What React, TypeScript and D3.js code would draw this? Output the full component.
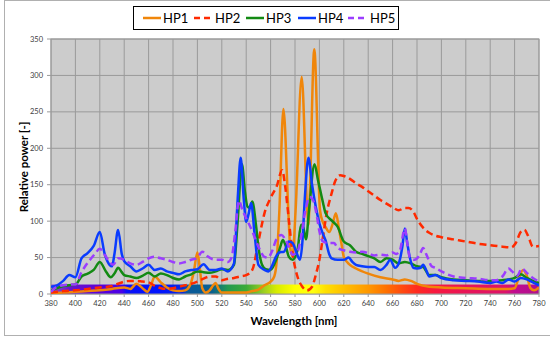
import React from 'react';
import * as d3 from 'd3';

type Pt = [number, number];

// Wavelength [nm] / relative power pairs for each lamp
const HP1: Pt[] = [
  [380, 1], [390, 2], [400, 3], [410, 4], [420, 5], [430, 7], [440, 9], [445, 7], [450, 14], [455, 8],
  [459, 3], [462, 12], [465, 24], [470, 16], [475, 9], [480, 5], [485, 4], [490, 5], [494, 12], [497, 30],
  [500, 57], [502, 35], [504, 8], [507, 2], [510, 5], [513, 12], [515, 15], [517, 8], [520, 2], [530, 2],
  [540, 2], [545, 4], [550, 6], [555, 12], [560, 17], [563, 24], [565, 45], [567.2, 115], [570.5, 254],
  [574.5, 115], [576, 65], [578, 52], [580.5, 115], [585.5, 298], [590, 115], [591, 95], [592, 130],
  [595.8, 336], [600.5, 115], [603, 98], [605, 92], [608, 85], [611, 97], [613.5, 111], [616, 90],
  [618, 70], [620, 51], [625, 40], [630, 35], [640, 28], [650, 23], [660, 20], [665, 18], [670, 20],
  [675, 18], [680, 14], [690, 10], [700, 9], [720, 8], [740, 7], [755, 7], [760, 8], [763, 20], [767, 33],
  [770, 25], [773, 8], [776, 5], [780, 9],
];

const HP2: Pt[] = [
  [380, 2], [390, 4], [400, 5], [410, 7], [420, 9], [430, 11], [435, 14], [440, 17], [445, 18], [450, 18],
  [455, 17], [460, 16], [465, 11], [470, 8], [475, 7], [480, 8], [485, 10], [490, 12], [495, 14], [500, 17],
  [505, 21], [510, 24], [515, 24], [520, 19], [525, 21], [530, 22], [535, 24], [540, 26], [545, 33],
  [550, 72], [555, 111], [560, 132], [565, 148], [569.5, 170], [572, 147], [575, 101], [578, 56], [582, 24],
  [586, 10], [590, 5], [594, 10], [597, 26], [600, 47], [603, 79], [606, 111], [610, 138], [613, 155],
  [617, 163], [620, 162], [625, 158], [630, 152], [635, 147], [640, 141], [645, 135], [650, 129], [655, 124],
  [660, 119], [665, 115], [670, 118], [673, 118], [677, 113], [680, 103], [685, 91], [690, 84], [695, 80],
  [700, 78], [710, 75], [720, 72], [730, 69], [740, 67], [750, 65], [757, 64], [761, 70], [765, 85],
  [768, 88], [771, 80], [775, 65], [780, 66],
];

const HP3: Pt[] = [
  [380, 5], [385, 8], [390, 11], [395, 12], [400, 13], [405, 24], [410, 28], [415, 33], [420, 44], [425, 31],
  [429, 23], [432, 28], [435, 36], [438, 30], [440, 26], [445, 24], [450, 22], [455, 25], [460, 29], [465, 24],
  [470, 28], [475, 26], [480, 22], [485, 20], [490, 24], [495, 27], [500, 31], [505, 30], [510, 29], [515, 31],
  [520, 34], [525, 33], [530, 40], [533, 100], [536.5, 178], [539, 140], [541, 120], [543, 118], [545, 127],
  [548, 95], [550, 65], [553, 40], [556, 34], [560, 33], [565, 49], [568, 65], [570, 74], [572, 68], [575, 51],
  [578, 47], [582, 60], [585, 95], [587, 90], [589, 75], [591.5, 115], [596, 178], [599, 155], [601, 140],
  [603, 125], [605, 111], [610, 101], [615, 92], [620, 72], [625, 67], [630, 58], [635, 55], [640, 52],
  [645, 49], [650, 44], [655, 49], [660, 47], [665, 42], [670, 44], [675, 42], [680, 38], [685, 37], [690, 26],
  [695, 26], [700, 23], [710, 20], [720, 19], [730, 18], [740, 18], [750, 19], [755, 20], [760, 22], [765, 27],
  [770, 22], [775, 18], [780, 15],
];

const HP4: Pt[] = [
  [380, 10], [385, 12], [390, 18], [395, 26], [400, 23], [405, 49], [410, 56], [415, 66], [420, 85], [424, 55],
  [428, 40], [430, 38], [432, 55], [435, 88], [438, 55], [440, 45], [445, 38], [450, 31], [455, 35], [460, 40],
  [465, 33], [470, 35], [475, 31], [480, 29], [485, 27], [490, 31], [495, 33], [500, 34], [505, 41], [510, 33],
  [515, 33], [520, 35], [525, 31], [530, 42], [533, 130], [535.5, 187], [538, 130], [540, 99], [542, 110],
  [544, 125], [547, 80], [550, 40], [555, 33], [558, 31], [561, 38], [564, 50], [567, 57], [571, 58],
  [575, 72], [578, 70], [581, 58], [584, 47], [586, 70], [588, 130], [591, 187], [594, 150], [597, 120],
  [600, 97], [603, 82], [605, 74], [608, 55], [610, 49], [615, 47], [620, 47], [624, 50], [627, 44], [630, 40],
  [635, 38], [640, 37], [645, 37], [650, 33], [655, 40], [658, 47], [662, 36], [665, 42], [668, 65], [670, 90],
  [672, 70], [674, 51], [677, 36], [680, 35], [683, 36], [685, 40], [688, 31], [690, 24], [695, 26], [700, 22],
  [710, 19], [720, 18], [730, 17], [740, 15], [745, 17], [750, 15], [755, 20], [760, 17], [765, 22], [770, 20],
  [775, 16], [780, 12],
];

const HP5: Pt[] = [
  [380, 3], [385, 10], [390, 12], [395, 13], [400, 13], [405, 30], [408, 38], [412, 47], [416, 55], [420, 62],
  [424, 54], [428, 44], [431, 40], [435, 49], [440, 47], [445, 42], [450, 40], [455, 44], [460, 49], [465, 51],
  [470, 49], [475, 47], [480, 44], [485, 42], [490, 44], [495, 47], [500, 50], [504, 58], [508, 52], [512, 48],
  [516, 47], [520, 47], [525, 44], [528, 50], [531, 85], [534, 128], [537, 115], [540, 104], [545, 86],
  [550, 65], [555, 51], [558, 50], [561, 58], [565, 76], [569, 81], [572, 75], [575, 65], [578, 54], [582, 58],
  [585, 79], [588, 110], [592, 133], [595, 128], [598, 106], [600, 86], [603, 72], [607, 70], [612, 70],
  [615, 63], [620, 60], [625, 58], [630, 57], [635, 58], [640, 56], [645, 53], [650, 54], [655, 53], [660, 57],
  [663, 55], [666, 60], [670, 90], [672, 70], [674, 51], [678, 47], [682, 53], [685, 63], [688, 53], [692, 38],
  [695, 36], [700, 31], [710, 24], [720, 22], [730, 21], [740, 19], [745, 19], [750, 24], [755, 35], [758, 31],
  [762, 25], [766, 35], [770, 29], [775, 22], [780, 17],
];

const SERIES_NAMES = ['HP1', 'HP2', 'HP3', 'HP4', 'HP5'];
const SERIES_DATA = [HP1, HP2, HP3, HP4, HP5];
const SERIES_COLORS = ['#f0860a', '#ff2a00', '#138a13', '#0a3cff', '#9b3dff'];
const SERIES_DASHED = [false, true, false, false, true];

const X_TICKS = d3.range(380, 781, 20);
const Y_TICKS = d3.range(0, 351, 50);

// Visible-spectrum colour band drawn along the bottom of the plot
const SPECTRUM_NM = [380, 395, 420, 438, 442, 470, 488, 492, 512, 525, 540, 555, 565, 580, 595, 605, 620, 640, 655, 668, 680, 695, 720, 752, 760, 780];
const SPECTRUM_COLORS = ['#8a50c8', '#6a14cc', '#5a00d8', '#4a00e8', '#0a10f8', '#0014ff', '#0a28e0', '#0a5a9a', '#0a6090', '#229a50', '#3aab38', '#a0d020', '#d8ec00', '#ffff00', '#ffff10', '#ffe000', '#ffc000', '#ff9800', '#ff7000', '#ff4a10', '#ff2a20', '#f81840', '#e81458', '#dc1468', '#c00c90', '#b0108c'];
const SPECTRUM_TOP = 13;

const FONT = 'Lato, "Open Sans", sans-serif';

export default function App() {
  const x = d3.scaleLinear().domain([380, 780]).range([51, 539]);
  const y = d3.scaleLinear().domain([0, 350]).range([294, 39]);
  const line = d3
    .line<Pt>()
    .x((d) => x(d[0]))
    .y((d) => y(d[1]))
    .curve(d3.curveMonotoneX);

  const [x0, x1] = x.range();
  const [yb, yt] = y.range();

  const legendItems = [
    { lx: 143, tx: 163 },
    { lx: 194, tx: 215 },
    { lx: 246, tx: 266 },
    { lx: 298, tx: 318 },
    { lx: 348, tx: 370 },
  ];

  return (
    <svg
      width={550}
      height={340}
      style={{ position: 'absolute', left: 0, top: 0, background: '#fff' }}
      fontFamily={FONT}
    >
      <defs>
        <linearGradient id="spectrum" gradientUnits="userSpaceOnUse" x1={x0} x2={x1} y1={0} y2={0}>
          {SPECTRUM_NM.map((nm, i) => (
            <stop key={nm} offset={(nm - 380) / 400} stopColor={SPECTRUM_COLORS[i]} />
          ))}
        </linearGradient>
        <clipPath id="plot-clip">
          <rect x={x0} y={yt} width={x1 - x0} height={yb - yt} />
        </clipPath>
      </defs>

      {/* chart frame (right edge lies outside the visible area) */}
      <rect x={4.5} y={0.5} width={560} height={335} fill="#fff" stroke="#b0b0b0" />

      {/* plot background */}
      <rect x={x0} y={yt} width={x1 - x0} height={yb - yt} fill="#cccccc" />

      {/* grid */}
      {X_TICKS.map((t) => (
        <line key={'gx' + t} x1={x(t)} x2={x(t)} y1={yt} y2={yb + 3} stroke="#9a9a9a" strokeWidth={1} />
      ))}
      {Y_TICKS.map((t) => (
        <line key={'gy' + t} x1={x0 - 4} x2={x1} y1={y(t)} y2={y(t)} stroke="#9a9a9a" strokeWidth={1} />
      ))}

      {/* spectrum band */}
      <rect
        x={x0}
        y={y(SPECTRUM_TOP)}
        width={x1 - x0}
        height={yb - y(SPECTRUM_TOP)}
        fill="url(#spectrum)"
      />

      <rect x={x0} y={yt} width={x1 - x0} height={yb - yt} fill="none" stroke="#9a9a9a" strokeWidth={1} />

      {/* series */}
      <g clipPath="url(#plot-clip)">
        {SERIES_DATA.map((data, i) => (
          <path
            key={SERIES_NAMES[i]}
            d={line(data) || ''}
            fill="none"
            stroke={SERIES_COLORS[i]}
            strokeWidth={2.5}
            strokeDasharray={SERIES_DASHED[i] ? '7,4' : undefined}
            strokeLinejoin="round"
          />
        ))}
      </g>

      {/* tick labels */}
      {X_TICKS.map((t) => (
        <text key={'tx' + t} x={x(t)} y={306} fontSize={7.5} fill="#404040" textAnchor="middle">
          {t}
        </text>
      ))}
      {Y_TICKS.map((t) => (
        <text key={'ty' + t} x={43} y={y(t) + 2.6} fontSize={7.5} fill="#404040" textAnchor="end">
          {t}
        </text>
      ))}

      {/* axis titles */}
      <text x={294} y={325} fontSize={11.5} fontWeight="bold" textAnchor="middle" fill="#000">
        Wavelength [nm]
      </text>
      <text
        transform="translate(28,167) rotate(-90)"
        fontSize={11.5}
        fontWeight="bold"
        textAnchor="middle"
        fill="#000"
      >
        Relative power [-]
      </text>

      {/* legend */}
      <rect x={133.5} y={6.5} width={265} height={23} fill="#fff" stroke="#000" strokeWidth={1} />
      {SERIES_NAMES.map((name, i) => (
        <g key={'lg' + name}>
          <line
            x1={legendItems[i].lx}
            x2={legendItems[i].lx + 18}
            y1={18}
            y2={18}
            stroke={SERIES_COLORS[i]}
            strokeWidth={2.5}
            strokeDasharray={SERIES_DASHED[i] ? '6,4' : undefined}
          />
          <text x={legendItems[i].tx} y={22.5} fontSize={13} fill="#000">
            {name}
          </text>
        </g>
      ))}
    </svg>
  );
}
